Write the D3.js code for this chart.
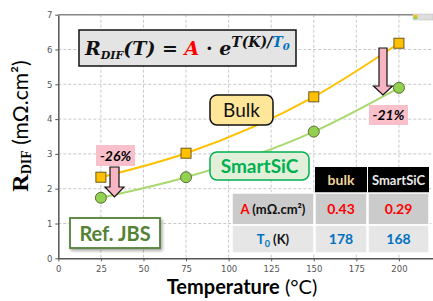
<!DOCTYPE html>
<html>
<head>
<meta charset="utf-8">
<script src="https://cdn.jsdelivr.net/npm/d3@7"></script>
<style>
  body { margin: 0; background: #fff; }
  svg { display: block; }
</style>
</head>
<body>
<script>
// data
const temps = [25, 75, 150, 200];
const bulkValues = [2.33, 3.02, 4.64, 6.18];
const smartSicValues = [1.74, 2.33, 3.64, 4.90];
const xTicks = [0, 25, 50, 75, 100, 125, 150, 175, 200];
const yTicks = [0, 1, 2, 3, 4, 5, 6, 7];
const tableHeader = ['bulk', 'SmartSiC'];
const tableA = ['0.43', '0.29'];
const tableT0 = ['178', '168'];
const dropLabels = ['-26%', '-21%'];

function drawArrow(svg, cx, top, headTop, tip, shaftW, headW) {
    const p = [
        [cx - shaftW / 2, top], [cx + shaftW / 2, top], [cx + shaftW / 2, headTop],
        [cx + headW / 2, headTop], [cx, tip], [cx - headW / 2, headTop],
        [cx - shaftW / 2, headTop]
    ];
    svg.append('path')
        .attr('d', 'M' + p.map(d => d.join(',')).join('L') + 'Z')
        .attr('fill', '#f7b4c3')
        .attr('stroke', '#111')
        .attr('stroke-width', 1.2);
}

function drawTag(svg, x, y, w, h, text, fill, fs) {
    svg.append('rect')
        .attr('x', x).attr('y', y).attr('width', w).attr('height', h)
        .attr('fill', fill);
    svg.append('text')
        .attr('x', x + w / 2).attr('y', y + h / 2 + fs * 0.36)
        .attr('text-anchor', 'middle')
        .attr('font-family', 'Lato, sans-serif')
        .attr('font-weight', 'bold').attr('font-style', 'italic')
        .attr('font-size', fs + 'px')
        .text(text);
}

function renderSVG() {
    // ==================================================
    // 1. size and scales
    // ==================================================
    const width = 433, height = 301;
    const svg = d3.select('body').append('svg')
        .attr('width', width).attr('height', height);

    const scaleX = d3.scaleLinear().domain([0, 220]).range([58.3, 433]);
    const scaleY = d3.scaleLinear().domain([0, 7]).range([258.3, 14.7]);

    const defs = svg.append('defs');
    const f = defs.append('filter').attr('id', 'shadow')
        .attr('x', '-20%').attr('y', '-20%').attr('width', '140%').attr('height', '150%');
    f.append('feDropShadow').attr('dx', 1.5).attr('dy', 2).attr('stdDeviation', 1.5)
        .attr('flood-color', '#000').attr('flood-opacity', 0.35);

    // ==================================================
    // 2. grid
    // ==================================================
    svg.selectAll('line.gx').data(xTicks.slice(1)).enter().append('line')
        .attr('x1', d => scaleX(d)).attr('x2', d => scaleX(d))
        .attr('y1', scaleY(7)).attr('y2', scaleY(0))
        .attr('stroke', '#c8c8c8').attr('stroke-dasharray', '3,2').attr('stroke-width', 1);
    svg.selectAll('line.gy').data(yTicks.slice(1)).enter().append('line')
        .attr('x1', scaleX(0)).attr('x2', width)
        .attr('y1', d => scaleY(d)).attr('y2', d => scaleY(d))
        .attr('stroke', '#c8c8c8').attr('stroke-dasharray', '3,2').attr('stroke-width', 1);

    // ==================================================
    // 3. axes
    // ==================================================
    const xAxis = svg.append('g')
        .attr('transform', `translate(0, ${scaleY(0)})`)
        .call(d3.axisBottom(scaleX).tickValues(xTicks).tickFormat(d3.format('d'))
            .tickSize(3).tickSizeOuter(0));
    const yAxis = svg.append('g')
        .attr('transform', `translate(${scaleX(0)}, 0)`)
        .call(d3.axisLeft(scaleY).tickValues(yTicks).tickFormat(d3.format('d'))
            .tickSize(3).tickSizeOuter(0));
    [xAxis, yAxis].forEach(a => {
        a.select('.domain').attr('stroke', '#555').attr('stroke-width', 1.5);
        a.selectAll('.tick line').attr('stroke', '#555');
        a.selectAll('.tick text').attr('fill', '#555')
            .attr('font-family', 'DejaVu Sans, sans-serif').attr('font-size', '8.5px');
    });
    xAxis.selectAll('.tick text').attr('dy', '0.95em');
    svg.append('line')
        .attr('x1', scaleX(0)).attr('x2', width)
        .attr('y1', scaleY(7)).attr('y2', scaleY(7))
        .attr('stroke', '#888').attr('stroke-width', 1.5);

    // ==================================================
    // 4. axis titles
    // ==================================================
    const yl = svg.append('text')
        .attr('transform', 'translate(28, 126) rotate(-90)')
        .attr('text-anchor', 'middle');
    yl.append('tspan').attr('font-family', 'Liberation Serif, serif').attr('font-weight', 'bold')
        .attr('font-size', '24px').text('R');
    yl.append('tspan').attr('font-family', 'Liberation Serif, serif').attr('font-weight', 'bold')
        .attr('font-size', '14px').attr('dy', 3).text('DIF');
    yl.append('tspan').attr('font-family', 'Lato, sans-serif')
        .attr('font-size', '21px').attr('dy', -3).text(' (mΩ.cm²)');

    const xl = svg.append('text')
        .attr('x', 242).attr('y', 294).attr('text-anchor', 'middle')
        .attr('font-family', 'Lato, sans-serif').attr('font-size', '20px');
    xl.append('tspan').attr('font-weight', 'bold').text('Temperature');
    xl.append('tspan').text(' (°C)');

    // ==================================================
    // 5. lines and markers
    // ==================================================
    const line = d3.line()
        .x(d => scaleX(d[0])).y(d => scaleY(d[1]))
        .curve(d3.curveMonotoneX);
    const bulk = temps.map((t, i) => [t, bulkValues[i]]);
    const smart = temps.map((t, i) => [t, smartSicValues[i]]);

    svg.append('path').datum(bulk).attr('d', line)
        .attr('fill', 'none').attr('stroke', '#ffc000').attr('stroke-width', 2);
    svg.append('path').datum(smart).attr('d', line)
        .attr('fill', 'none').attr('stroke', '#a9d86e').attr('stroke-width', 2);

    svg.selectAll('rect.bulk').data(bulk).enter().append('rect')
        .attr('x', d => scaleX(d[0]) - 5).attr('y', d => scaleY(d[1]) - 5)
        .attr('width', 10).attr('height', 10)
        .attr('fill', '#ffc000').attr('stroke', '#6b5a1e').attr('stroke-width', 1);
    svg.selectAll('circle.smart').data(smart).enter().append('circle')
        .attr('cx', d => scaleX(d[0])).attr('cy', d => scaleY(d[1])).attr('r', 5.5)
        .attr('fill', '#92d050').attr('stroke', '#5a6b3a').attr('stroke-width', 1);

    // tiny legend remnant at top right
    svg.append('rect').attr('x', 413).attr('y', 14).attr('width', 20).attr('height', 6)
        .attr('fill', '#ddd').attr('stroke', '#bbb').attr('stroke-width', 0.5);
    svg.append('rect').attr('x', 413.5).attr('y', 15).attr('width', 4).attr('height', 2).attr('fill', '#ffc000');
    svg.append('rect').attr('x', 413.5).attr('y', 17).attr('width', 4).attr('height', 2).attr('fill', '#92d050');

    // ==================================================
    // 6. formula box
    // ==================================================
    svg.append('rect').attr('x', 79).attr('y', 30).attr('width', 217).attr('height', 36)
        .attr('fill', '#e4e4e4').attr('stroke', '#111').attr('stroke-width', 1.5);
    const fm = svg.append('text').attr('x', 85).attr('y', 55)
        .attr('font-family', 'DejaVu Serif, serif').attr('font-weight', 'bold')
        .attr('font-style', 'italic').attr('font-size', '19px').attr('fill', '#111');
    fm.append('tspan').text('R');
    fm.append('tspan').attr('font-size', '11px').attr('dy', 4).text('DIF');
    fm.append('tspan').attr('dy', -4).text('(T) = ');
    fm.append('tspan').attr('fill', '#ff0000').text('A');
    fm.append('tspan').attr('font-style', 'normal').text(' · ');
    fm.append('tspan').text('e');
    fm.append('tspan').attr('font-size', '14px').attr('dy', -8).text('T(K)/');
    fm.append('tspan').attr('font-size', '14px').attr('fill', '#0070c0').text('T');
    fm.append('tspan').attr('font-size', '10px').attr('fill', '#0070c0').attr('dy', 3).text('0');

    // ==================================================
    // 7. series callouts
    // ==================================================
    svg.append('rect').attr('x', 210).attr('y', 95).attr('width', 63).attr('height', 30).attr('rx', 7)
        .attr('fill', '#ffe699').attr('stroke', '#111').attr('stroke-width', 1.5);
    svg.append('text').attr('x', 241.5).attr('y', 117).attr('text-anchor', 'middle')
        .attr('font-family', 'Lato, sans-serif').attr('font-size', '19px').attr('fill', '#111')
        .text('Bulk');

    svg.append('rect').attr('x', 210).attr('y', 152).attr('width', 99).attr('height', 28).attr('rx', 7)
        .attr('fill', '#e2f0d9').attr('stroke', '#00b050').attr('stroke-width', 1.5);
    svg.append('text').attr('x', 259.5).attr('y', 173).attr('text-anchor', 'middle')
        .attr('font-family', 'Lato, sans-serif').attr('font-weight', 'bold')
        .attr('font-size', '19px').attr('fill', '#00b050').text('SmartSiC');

    svg.append('rect').attr('x', 70).attr('y', 218).attr('width', 90).attr('height', 30)
        .attr('fill', '#fff').attr('stroke', '#548235').attr('stroke-width', 1.8)
        .attr('filter', 'url(#shadow)');
    svg.append('text').attr('x', 115).attr('y', 240.5).attr('text-anchor', 'middle')
        .attr('font-family', 'Lato, sans-serif').attr('font-weight', 'bold')
        .attr('font-size', '20px').attr('fill', '#548235').text('Ref. JBS');

    // ==================================================
    // 8. drop annotations
    // ==================================================
    drawTag(svg, 96, 145, 39, 21, dropLabels[0], '#f9c0cc', 14);
    drawTag(svg, 369, 105, 39, 20, dropLabels[1], '#f9c0cc', 14);
    drawArrow(svg, 114.5, 167, 187, 197, 9, 19);
    drawArrow(svg, 383, 48, 86, 95, 8, 19);

    // ==================================================
    // 9. parameter table
    // ==================================================
    const colX = [232, 315, 368], colW = [82, 52, 61];
    const rowY = [167, 193, 225], rowH = [26, 32, 28];
    tableHeader.forEach((h, i) => {
        svg.append('rect').attr('x', colX[i + 1]).attr('y', rowY[0])
            .attr('width', colW[i + 1]).attr('height', rowH[0]).attr('fill', '#000');
        svg.append('text').attr('x', colX[i + 1] + colW[i + 1] / 2).attr('y', rowY[0] + 18)
            .attr('text-anchor', 'middle').attr('font-family', 'Lato, sans-serif')
            .attr('font-weight', 'bold').attr('font-size', i === 0 ? '14px' : '13px')
            .attr('fill', i === 0 ? '#f2d49a' : '#e8e8e8').text(h);
    });
    [1, 2].forEach(r => {
        [0, 1, 2].forEach(c => {
            svg.append('rect').attr('x', colX[c]).attr('y', rowY[r])
                .attr('width', colW[c]).attr('height', rowH[r])
                .attr('fill', r === 1 ? '#cbcbcb' : '#e6e6e6')
                .attr('stroke', '#fff').attr('stroke-width', 1.5);
        });
    });
    const aLab = svg.append('text').attr('x', colX[0] + colW[0] / 2).attr('y', rowY[1] + 21)
        .attr('text-anchor', 'middle').attr('font-family', 'Lato, sans-serif')
        .attr('font-weight', 'bold').attr('font-size', '13px').attr('fill', '#111');
    aLab.append('tspan').attr('fill', '#ff0000').text('A');
    aLab.append('tspan').text(' (mΩ.cm²)');
    const tLab = svg.append('text').attr('x', colX[0] + colW[0] / 2).attr('y', rowY[2] + 19)
        .attr('text-anchor', 'middle').attr('font-family', 'Lato, sans-serif')
        .attr('font-weight', 'bold').attr('font-size', '13px').attr('fill', '#111');
    tLab.append('tspan').attr('fill', '#0070c0').text('T');
    tLab.append('tspan').attr('fill', '#0070c0').attr('font-size', '9px').attr('dy', 3).text('0');
    tLab.append('tspan').attr('dy', -3).text(' (K)');
    tableA.forEach((v, i) => {
        svg.append('text').attr('x', colX[i + 1] + colW[i + 1] / 2).attr('y', rowY[1] + 21)
            .attr('text-anchor', 'middle').attr('font-family', 'Lato, sans-serif')
            .attr('font-weight', 'bold').attr('font-size', '14px').attr('fill', '#ff0000').text(v);
    });
    tableT0.forEach((v, i) => {
        svg.append('text').attr('x', colX[i + 1] + colW[i + 1] / 2).attr('y', rowY[2] + 19)
            .attr('text-anchor', 'middle').attr('font-family', 'Lato, sans-serif')
            .attr('font-weight', 'bold').attr('font-size', '14px').attr('fill', '#0070c0').text(v);
    });
}

window.addEventListener('load', function() {
    requestAnimationFrame(renderSVG);
});
</script>
</body>
</html>
